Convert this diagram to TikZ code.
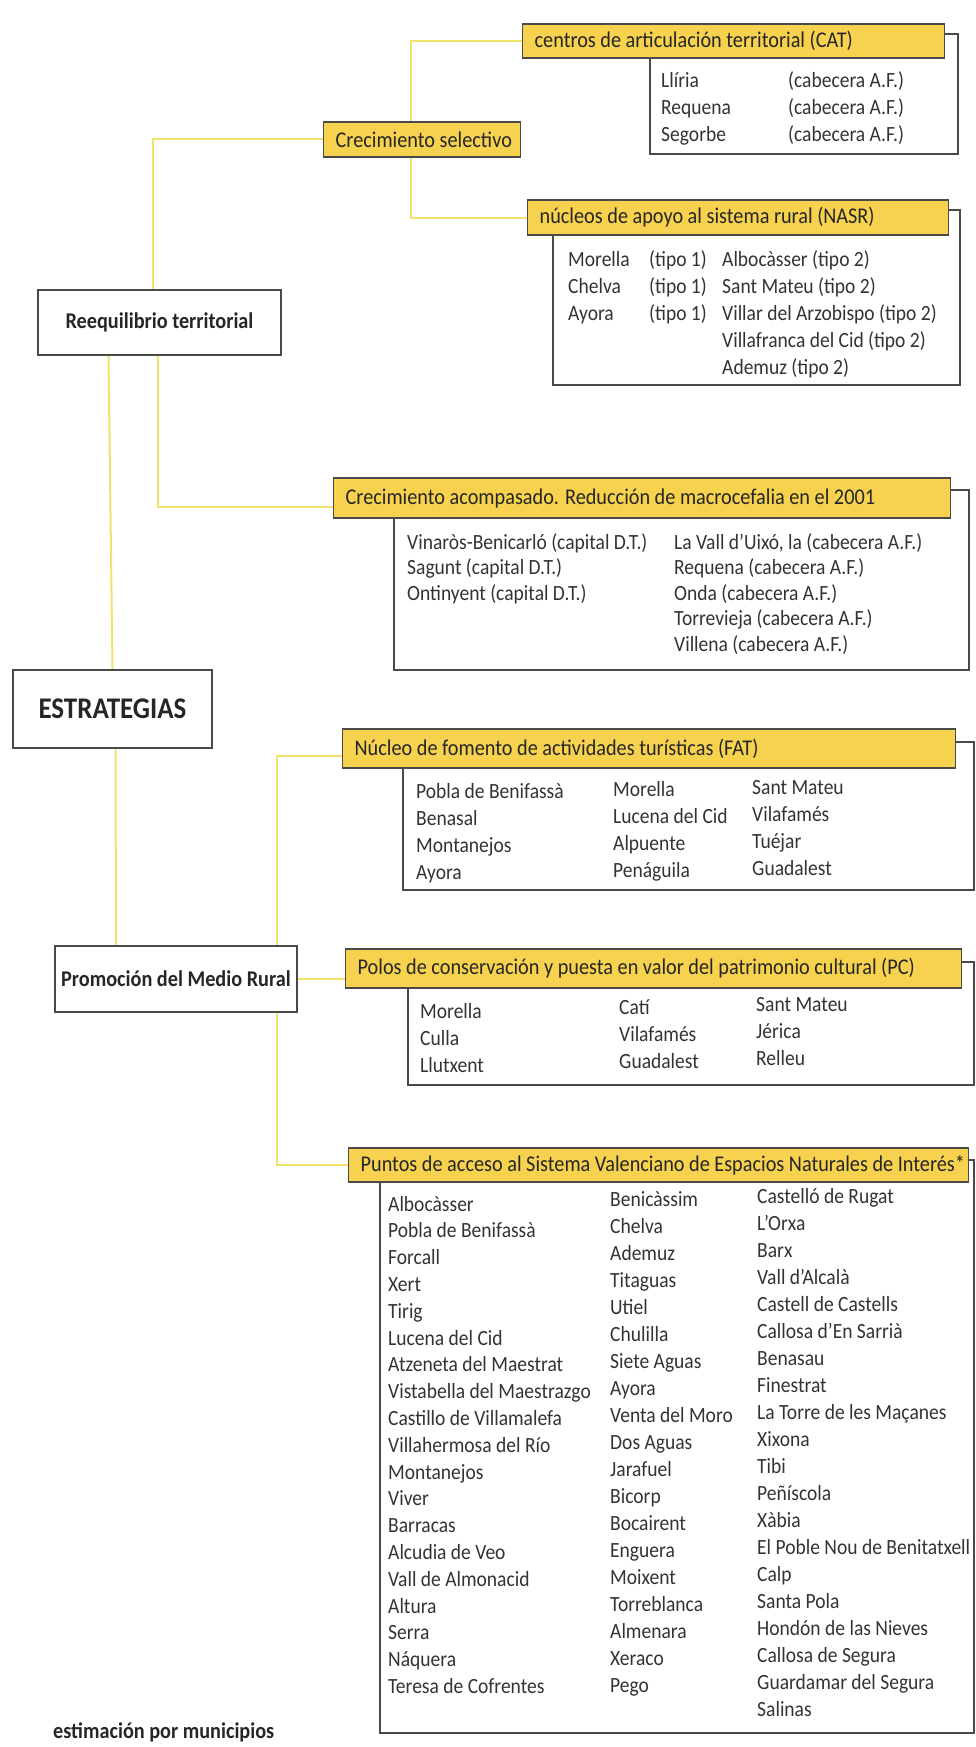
\documentclass[tikz,border=0pt]{standalone}
\usepackage{fontspec}
\setmainfont[FakeStretch=0.9]{Carlito}
\usetikzlibrary{backgrounds}

\definecolor{amarillo}{HTML}{F6D24F}
\definecolor{enlacecol}{HTML}{F0E26A}
\definecolor{linea}{HTML}{4A4A4A}
\definecolor{tinta}{HTML}{333333}

\newcommand{\cuerpo}{\fontsize{21.7}{27}\selectfont}
\newcommand{\cabfont}{\fontsize{22.5}{27}\selectfont}
\newcommand{\titfont}{\fontsize{22.5}{27}\selectfont\bfseries}
\newcommand{\grande}{\fontsize{30}{36}\selectfont\bfseries}
\newcommand{\izq}[2]{\makebox[#1][l]{#2}}

\tikzset{
  principal/.style={draw=linea, fill=white, line width=1.8pt, inner sep=0pt, font=\titfont, text=black!85},
  cabecera/.style={draw=linea, fill=amarillo, line width=1.3pt, inner xsep=12pt, inner ysep=0pt, anchor=west, font=\cabfont, text=black!85},
  caja/.style={draw=linea, line width=1.4pt},
  enlace/.style={draw=enlacecol, line width=2pt},
  texto/.style={anchor=base west, inner sep=0pt, font=\cuerpo, text=tinta}
}

\begin{document}
\begin{tikzpicture}[x=1pt, y=-1pt]
  \useasboundingbox (0,0) rectangle (976,1747);

  % Content boxes (behind headers)
  \draw[caja] (650,34) rectangle (958,154);
  \draw[caja] (553,210) rectangle (960,385);
  \draw[caja] (394,490) rectangle (969,670);
  \draw[caja] (403,742) rectangle (974,890);
  \draw[caja] (408,962) rectangle (974,1085);
  \draw[caja] (380,1160) rectangle (974,1733);

  % Main boxes
  \node[principal, minimum width=243pt, minimum height=65pt] (reeq) at (159.5,322.5) {Reequilibrio territorial};
  \node[principal, font=\grande, minimum width=199pt, minimum height=78pt] (estr) at (112.5,709) {ESTRATEGIAS};
  \node[principal, minimum width=242pt, minimum height=66pt] (prom) at (176,979) {Promoción del Medio Rural};

  % Yellow headers
  \node[cabecera, minimum height=35pt] (crecsel) at (323,139.5) {\izq{173pt}{Crecimiento selectivo}};
  \node[cabecera, minimum height=34pt] (cat) at (522,41) {\izq{398pt}{centros de articulación territorial (CAT)}};
  \node[cabecera, minimum height=35pt] (nasr) at (527,217.5) {\izq{397pt}{núcleos de apoyo al sistema rural (NASR)}};
  \node[cabecera, minimum height=40pt] (acomp) at (333,498) {\izq{593pt}{Crecimiento acompasado. Reducción de macrocefalia en el 2001}};
  \node[cabecera, minimum height=39pt] (fat) at (342,748.5) {\izq{589pt}{Núcleo de fomento de actividades turísticas (FAT)}};
  \node[cabecera, minimum height=39pt] (pc) at (345,968.5) {\izq{592pt}{Polos de conservación y puesta en valor del patrimonio cultural (PC)}};
  \node[cabecera, minimum height=34pt] (pav) at (348,1165) {\izq{596pt}{Puntos de acceso al Sistema Valenciano de Espacios Naturales de Interés*}};

  % Connectors
  \begin{pgfonlayer}{background}
    \draw[enlace] ([xshift=-6.5pt]reeq.north) |- (crecsel.west);
    \draw[enlace] ([xshift=-11.5pt]crecsel.north) |- (cat.west);
    \draw[enlace] ([xshift=-11.5pt]crecsel.south) |- (nasr.west);
    \draw[enlace] ([xshift=-1.5pt]reeq.south) |- ([yshift=-9pt]acomp.west);
    \draw[enlace] ([xshift=-51pt]reeq.south) -- (estr.north);
    \draw[enlace] ([xshift=3pt]estr.south) -- ([xshift=-60pt]prom.north);
    \draw[enlace] ([xshift=101pt]prom.north) |- ([yshift=-7.5pt]fat.west);
    \draw[enlace] ([xshift=101pt]prom.south) |- (pav.west);
    \draw[enlace] (prom.east) -- (prom.east -| pc.west);
  \end{pgfonlayer}

  % CAT
  \foreach \t [count=\i from 0] in {Llíria, Requena, Segorbe}
    \node[texto] (cat-a\i) at (661, 88+27*\i) {\t};
  \foreach \i in {0,1,2}
    \node[texto] (cat-b\i) at (788, 88+27*\i) {(cabecera A.F.)};

  % NASR
  \foreach \t [count=\i from 0] in {Morella, Chelva, Ayora}
    \node[texto] (nasr-a\i) at (568, 266+27*\i) {\t};
  \foreach \i in {0,1,2}
    \node[texto] (nasr-b\i) at (649, 266+27*\i) {(tipo 1)};
  \foreach \t [count=\i from 0] in {Albocàsser (tipo 2), Sant Mateu (tipo 2), Villar del Arzobispo (tipo 2), Villafranca del Cid (tipo 2), Ademuz (tipo 2)}
    \node[texto] (nasr-c\i) at (722, 266+27*\i) {\t};

  % Crecimiento acompasado
  \foreach \t [count=\i from 0] in {Vinaròs-Benicarló (capital D.T.), Sagunt (capital D.T.), Ontinyent (capital D.T.)}
    \node[texto] (acomp-a\i) at (407, 549+25.5*\i) {\t};
  \foreach \t [count=\i from 0] in {{La Vall d'Uixó, la (cabecera A.F.)}, Requena (cabecera A.F.), Onda (cabecera A.F.), Torrevieja (cabecera A.F.), Villena (cabecera A.F.)}
    \node[texto] (acomp-b\i) at (674, 549+25.5*\i) {\t};

  % FAT
  \foreach \t [count=\i from 0] in {Pobla de Benifassà, Benasal, Montanejos, Ayora}
    \node[texto] (fat-a\i) at (416, 798+27*\i) {\t};
  \foreach \t [count=\i from 0] in {Morella, Lucena del Cid, Alpuente, Penáguila}
    \node[texto] (fat-b\i) at (613, 796+27*\i) {\t};
  \foreach \t [count=\i from 0] in {Sant Mateu, Vilafamés, Tuéjar, Guadalest}
    \node[texto] (fat-c\i) at (752, 794+27*\i) {\t};

  % PC
  \foreach \t [count=\i from 0] in {Morella, Culla, Llutxent}
    \node[texto] (pc-a\i) at (420, 1018+27*\i) {\t};
  \foreach \t [count=\i from 0] in {Catí, Vilafamés, Guadalest}
    \node[texto] (pc-b\i) at (619, 1014+27*\i) {\t};
  \foreach \t [count=\i from 0] in {Sant Mateu, Jérica, Relleu}
    \node[texto] (pc-c\i) at (756, 1011+27*\i) {\t};

  % Puntos de acceso
  \foreach \t [count=\i from 0] in {Albocàsser, Pobla de Benifassà, Forcall, Xert, Tirig, Lucena del Cid, Atzeneta del Maestrat, Vistabella del Maestrazgo, Castillo de Villamalefa, Villahermosa del Río, Montanejos, Viver, Barracas, Alcudia de Veo, Vall de Almonacid, Altura, Serra, Náquera, Teresa de Cofrentes}
    \node[texto] (pav-a\i) at (388, 1211+26.8*\i) {\t};
  \foreach \t [count=\i from 0] in {Benicàssim, Chelva, Ademuz, Titaguas, Utiel, Chulilla, Siete Aguas, Ayora, Venta del Moro, Dos Aguas, Jarafuel, Bicorp, Bocairent, Enguera, Moixent, Torreblanca, Almenara, Xeraco, Pego}
    \node[texto] (pav-b\i) at (610, 1206+27*\i) {\t};
  \foreach \t [count=\i from 0] in {Castelló de Rugat, L'Orxa, Barx, Vall d'Alcalà, Castell de Castells, Callosa d'En Sarrià, Benasau, Finestrat, La Torre de les Maçanes, Xixona, Tibi, Peñíscola, Xàbia, El Poble Nou de Benitatxell, Calp, Santa Pola, Hondón de las Nieves, Callosa de Segura, Guardamar del Segura, Salinas}
    \node[texto] (pav-c\i) at (757, 1203+27*\i) {\t};

  \node[texto, font=\titfont, text=black!85] (nota) at (53,1738) {estimación por municipios};
\end{tikzpicture}
\end{document}
